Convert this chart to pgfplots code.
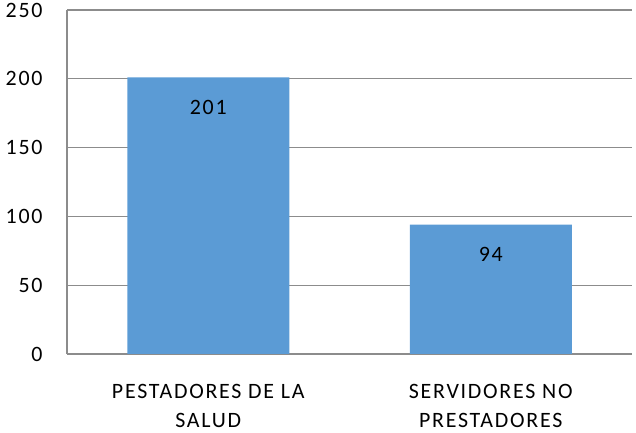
\documentclass[border=0pt]{standalone}
\usepackage{pgfplots}
\pgfplotsset{compat=1.18}
\usepackage{fontspec}
\setmainfont{Carlito}[LetterSpace=8]
\definecolor{barblue}{HTML}{5B9BD5}
\definecolor{gridgray}{HTML}{8C8C8C}
\begin{document}
\begin{tikzpicture}
\useasboundingbox (0,0) rectangle (636bp,433bp);
\begin{axis}[
  at={(67bp,79bp)}, anchor=south west,
  scale only axis, width=565bp, height=344bp,
  ybar, bar width=162bp,
  xmin=-0.5, xmax=1.5, ymin=0, ymax=250,
  xtick=data, xticklabels={{PESTADORES DE LA\\SALUD},{SERVIDORES NO\\PRESTADORES}},
  ytick={0,50,100,150,200,250},
  axis x line*=bottom, axis y line*=left,
  axis line style={gridgray, line width=1.3bp},
  x axis line style={-}, y axis line style={-},
  ymajorgrids, grid style={gridgray, line width=1.3bp},
  major tick length=0pt,
  tick style={draw=none},
  ticklabel style={font=\fontsize{22}{29}\selectfont},
  xticklabel style={align=center, yshift=-27bp},
  yticklabel style={xshift=-21bp},
  /pgf/number format/assume math mode=true,
  nodes near coords,
  every node near coord/.append style={anchor=center, yshift=-30bp, font=\fontsize{22}{25}\selectfont, black},
]
\addplot[fill=barblue, draw=none] coordinates {(0,201) (1,94)};
\end{axis}
\end{tikzpicture}
\end{document}
